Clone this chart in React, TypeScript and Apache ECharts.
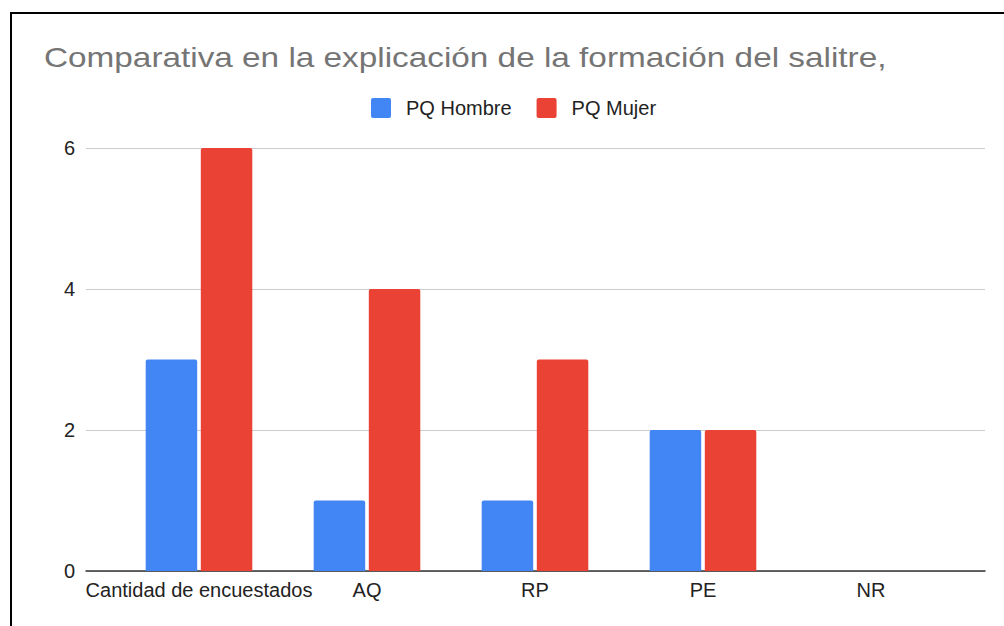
import React, { useEffect, useRef } from "react";
import * as echarts from "echarts";

const titleText = "Comparativa en la explicación de la formación del salitre,";
const categories = ["Cantidad de encuestados", "AQ", "RP", "PE", "NR"];
const seriesNames = ["PQ Hombre", "PQ Mujer"];
const hombre = [3, 1, 1, 2, 0];
const mujer = [6, 4, 3, 2, 0];
const yTicks = [0, 2, 4, 6];

const FONT = "'Liberation Sans', Arial, sans-serif";
const ICON = "path://M2,0H18Q20,0 20,2V18Q20,20 18,20H2Q0,20 0,18V2Q0,0 2,0Z";

export default function App() {
  const ref = useRef<HTMLDivElement>(null);
  useEffect(() => {
    if (!ref.current) return;
    const chart = echarts.init(ref.current, undefined, { renderer: "svg" });
    const yMax = yTicks[yTicks.length - 1];
    chart.setOption({
      animation: false,
      backgroundColor: "transparent",
      graphic: [
        {
          type: "text",
          x: 44,
          y: 43,
          scaleX: 1.19,
          style: {
            text: titleText,
            fontFamily: FONT,
            fontSize: 28,
            fill: "#757575",
            verticalAlign: "top",
            align: "left",
          },
        },
      ],
      legend: {
        left: 366,
        top: 93,
        itemWidth: 20,
        itemHeight: 20,
        itemGap: 25,
        icon: ICON,
        textStyle: { fontFamily: FONT, fontSize: 20, color: "#222", padding: [0, 0, 0, 10] },
        data: seriesNames,
      },
      grid: [
        { left: 86, right: 19, top: 148, bottom: 55 },
        { left: 115, right: 49, top: 148, bottom: 55 },
      ],
      xAxis: [
        {
          type: "value",
          gridIndex: 0,
          min: 0,
          max: 1,
          axisLine: { show: true, onZero: false, lineStyle: { color: "#333", width: 1.5 } },
          axisTick: { show: false },
          axisLabel: { show: false },
          splitLine: { show: false },
        },
        {
          type: "category",
          gridIndex: 1,
          data: categories,
          axisLine: { show: false },
          axisTick: { show: false },
          axisLabel: { margin: 9, fontFamily: FONT, fontSize: 20, color: "#222", interval: 0 },
        },
      ],
      yAxis: [
        {
          type: "value",
          gridIndex: 0,
          min: 0,
          max: yMax,
          interval: 2,
          axisLine: { show: false },
          axisTick: { show: false },
          axisLabel: { margin: 11, fontFamily: FONT, fontSize: 20, color: "#222" },
          splitLine: { lineStyle: { color: "#cccccc", width: 1 } },
        },
        {
          type: "value",
          gridIndex: 1,
          min: 0,
          max: yMax,
          interval: 2,
          show: false,
          splitLine: { show: false },
        },
      ],
      series: [
        {
          name: seriesNames[0],
          type: "bar",
          xAxisIndex: 1,
          yAxisIndex: 1,
          data: hombre,
          barWidth: 51.5,
          barGap: "7%",
          itemStyle: { color: "#4285F4", borderRadius: [2, 2, 0, 0] },
        },
        {
          name: seriesNames[1],
          type: "bar",
          xAxisIndex: 1,
          yAxisIndex: 1,
          data: mujer,
          barWidth: 51.5,
          barGap: "7%",
          itemStyle: { color: "#EA4335", borderRadius: [2, 2, 0, 0] },
        },
      ],
    });
    return () => chart.dispose();
  }, []);

  return (
    <div
      style={{
        position: "fixed",
        left: 0,
        top: 0,
        width: 1004,
        height: 626,
        overflow: "hidden",
        background: "#fff",
      }}
    >
      <div
        style={{
          position: "absolute",
          left: 10,
          top: 12,
          width: 1100,
          height: 700,
          borderTop: "2px solid #000",
          borderLeft: "2px solid #000",
        }}
      />
      <div ref={ref} style={{ position: "absolute", left: 0, top: 0, width: 1004, height: 626 }} />
    </div>
  );
}
